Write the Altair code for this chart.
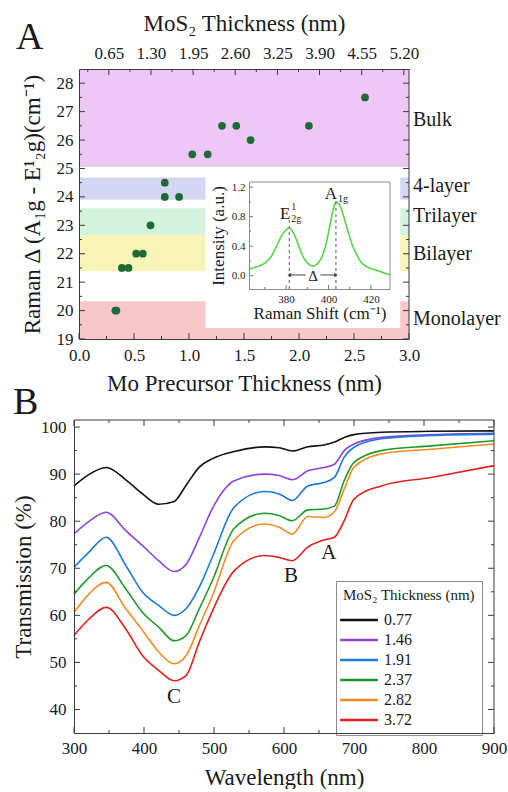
import altair as alt
import pandas as pd

FONT = "Liberation Serif, Times New Roman, serif"
INK = "#1a1a1a"
FRAME = "#3a3a3a"

# ---------------- Panel A : Raman difference vs precursor thickness ----------------
prec_thk = [0.33, 0.34, 0.39, 0.45, 0.52, 0.58, 0.65, 0.78, 0.78, 0.91, 1.03, 1.17, 1.30, 1.43, 1.56, 2.09, 2.60]
raman_delta = [20.0, 20.0, 21.5, 21.5, 22.0, 22.0, 23.0, 24.5, 24.0, 24.0, 25.5, 25.5, 26.5, 26.5, 26.0, 26.5, 27.5]

band_names = ["Monolayer", "Bilayer", "Trilayer", "4-layer", "Bulk"]
band_lo = [19.0, 21.38, 22.66, 23.9, 25.05]
band_hi = [20.33, 22.66, 23.6, 24.68, 28.5]
band_label_y = [19.7, 22.0, 23.33, 24.4, 26.7]
band_colors = ["#f8c7c9", "#f8f3b6", "#d4f3df", "#d4d6f4", "#efc7f7"]

xa_dom = [0.0, 3.0]
ya_dom = [19.0, 28.5]
xa_major = [0.0, 0.5, 1.0, 1.5, 2.0, 2.5, 3.0]
xa_minor = [0.25, 0.75, 1.25, 1.75, 2.25, 2.75]
ya_major = [19, 20, 21, 22, 23, 24, 25, 26, 27, 28]
ya_minor = [19.5, 20.5, 21.5, 22.5, 23.5, 24.5, 25.5, 26.5, 27.5]

mos2_dom = [0.19, 5.28]
mos2_major = [0.65, 1.30, 1.95, 2.60, 3.25, 3.90, 4.55, 5.20]
mos2_minor = [0.325, 0.975, 1.625, 2.275, 2.925, 3.575, 4.225, 4.875]

inset_box_x = [1.15, 2.92]
inset_box_y = [19.39, 24.9]

# inset Raman spectrum
raman_shift = [362.5, 366, 370, 373, 376, 378, 380, 381.5, 383, 385, 387, 389, 391, 393, 395,
               397, 399, 401, 402.5, 403.5, 405, 407, 409, 411, 413, 415, 418, 422, 426, 429]
raman_int = [0.09, 0.12, 0.17, 0.26, 0.43, 0.55, 0.62, 0.65, 0.60, 0.48, 0.32, 0.21, 0.15, 0.13, 0.17,
             0.26, 0.45, 0.73, 0.93, 1.0, 0.97, 0.82, 0.62, 0.43, 0.30, 0.20, 0.12, 0.08, 0.04, 0.01]
inset_x_dom = [362.5, 429.0]
inset_y_dom = [-0.18, 1.27]
inset_x_major = [380, 400, 420]
inset_x_minor = [370, 390, 410]
inset_y_major = [0.0, 0.4, 0.8, 1.2]
inset_y_minor = [0.2, 0.6, 1.0]
peak_pos = [381.5, 403.5]
peak_line_top = [0.76, 1.03]
delta_gap = [389.2, 396.2]
delta_level = 0.01

# ---------------- Panel B : transmission spectra ----------------
wl = [300, 320, 346, 374, 398, 421, 443, 460, 479, 498, 529, 572, 593, 612, 634, 657, 672, 686, 700, 739, 810, 900]
thk_labels = ["0.77", "1.46", "1.91", "2.37", "2.82", "3.72"]
line_colors = ["#111111", "#8e44d8", "#1b7ad9", "#1d9a2a", "#f38b22", "#e2201f"]
T_077 = [87.5, 89.8, 91.4, 88.8, 85.8, 83.6, 84.2, 87.6, 91.5, 93.3, 94.8, 95.8, 95.6, 94.9, 95.8, 96.2, 96.8, 97.8, 98.4, 98.9, 99.1, 99.2]
T_146 = [77.3, 79.8, 81.9, 78.0, 74.8, 71.6, 69.3, 70.8, 76.5, 82.8, 88.6, 90.0, 89.7, 88.8, 90.7, 91.4, 92.1, 95.0, 96.4, 97.8, 98.4, 98.7]
T_191 = [70.2, 73.2, 76.6, 70.6, 64.9, 62.1, 60.0, 61.4, 66.0, 72.5, 83.0, 86.3, 85.8, 84.4, 87.5, 88.2, 89.3, 93.6, 95.7, 97.5, 98.2, 98.5]
T_237 = [64.5, 67.8, 70.6, 65.6, 60.6, 57.5, 54.6, 55.7, 61.4, 67.5, 78.5, 81.7, 81.2, 80.1, 82.4, 82.6, 83.2, 88.6, 92.5, 95.0, 96.0, 97.1]
T_282 = [60.6, 64.3, 67.0, 61.4, 56.8, 52.2, 49.7, 51.4, 57.8, 64.2, 76.0, 79.4, 78.7, 77.3, 81.0, 80.8, 82.0, 86.8, 91.5, 94.3, 95.3, 96.4]
T_372 = [55.7, 59.0, 61.7, 57.1, 51.4, 48.3, 46.1, 47.2, 54.3, 61.0, 69.5, 72.7, 72.3, 71.6, 74.5, 76.0, 76.6, 80.1, 84.7, 87.5, 89.3, 91.8]
series = [T_077, T_146, T_191, T_237, T_282, T_372]

peak_labels = ["B", "A", "C"]
peak_wl = [610, 664, 443]
peak_T = [68.4, 73.2, 42.7]

xb_dom = [300, 900]
yb_dom = [35.0, 101.5]
xb_major = [300, 400, 500, 600, 700, 800, 900]
xb_minor = [350, 450, 550, 650, 750, 850]
yb_major = [40, 50, 60, 70, 80, 90, 100]
yb_minor = [45, 55, 65, 75, 85, 95]

# ---------------- layout constants ----------------
WA, HA = 335, 270
XA_RANGE = [5, WA]
INSET_X_RANGE = [175, 316]
INSET_Y_RANGE = [220, 113]
WB, HB = 420, 313


def axis(**kw):
    d = dict(labelFont=FONT, titleFont=FONT, labelColor=INK, titleColor=INK,
             titleFontWeight="normal", ticks=False, labelFlush=False, labelOverlap=False,
             grid=False, labelFontSize=17, titleFontSize=23, domainColor=FRAME)
    d.update(kw)
    return alt.Axis(**d)


XA = alt.Scale(domain=xa_dom, range=XA_RANGE, nice=False, zero=False)
YA = alt.Scale(domain=ya_dom, nice=False, zero=False)
XT = alt.Scale(domain=mos2_dom, range=XA_RANGE, nice=False, zero=False)
XI = alt.Scale(domain=inset_x_dom, range=INSET_X_RANGE, nice=False, zero=False)
YI = alt.Scale(domain=inset_y_dom, range=INSET_Y_RANGE, nice=False, zero=False)
XB = alt.Scale(domain=xb_dom, nice=False, zero=False)
YB = alt.Scale(domain=yb_dom, nice=False, zero=False)

AX_XA = axis(values=xa_major, format=".1f", title="Mo Precursor Thickness (nm)",
             labelPadding=8, titlePadding=9, zindex=1)
AX_YA = axis(values=ya_major, format="d", title="Raman Δ (A₁g - E¹₂g)(cm⁻¹)", offset=-5,
             labelPadding=6, titlePadding=12, zindex=1)
AX_XT = axis(orient="top", values=mos2_major, format=".2f", title="MoS₂ Thickness (nm)",
             labelPadding=7, titlePadding=9, zindex=1)
AX_XI = axis(orient="bottom", offset=-(HA - INSET_Y_RANGE[0]), values=inset_x_major, format="d",
             title="Raman Shift (cm⁻¹)", labelFontSize=11, titleFontSize=17,
             labelPadding=4, titlePadding=1, zindex=2, domainColor="#8a8a8a")
AX_YI = axis(orient="left", offset=-INSET_X_RANGE[0], values=inset_y_major, format=".1f",
             title="Intensity (a.u.)", labelFontSize=11, titleFontSize=17,
             labelPadding=4, titlePadding=4, zindex=2, domainColor="#8a8a8a")
AX_XB = axis(values=xb_major, format="d", title="Wavelength (nm)",
             labelPadding=7, titlePadding=10, zindex=1)
AX_YB = axis(values=yb_major, format="d", title="Transmission (%)",
             labelPadding=8, titlePadding=5, zindex=1)

AXES = {id(XA): AX_XA, id(YA): AX_YA, id(XT): AX_XT, id(XI): AX_XI, id(YI): AX_YI,
        id(XB): AX_XB, id(YB): AX_YB}


def X(field, scale):
    return alt.X(field, scale=scale, axis=AXES[id(scale)])


def Y(field, scale):
    return alt.Y(field, scale=scale, axis=AXES[id(scale)])


def vticks(vals, scale, y0, y1, color=FRAME):
    return alt.Chart(pd.DataFrame({"v": vals})).mark_rule(color=color, strokeWidth=1).encode(
        x=X("v:Q", scale), y=alt.value(y0), y2=alt.value(y1))


def hticks(vals, scale, x0, x1, color=FRAME):
    return alt.Chart(pd.DataFrame({"v": vals})).mark_rule(color=color, strokeWidth=1).encode(
        y=Y("v:Q", scale), x=alt.value(x0), x2=alt.value(x1))


# ---------- panel A main layers ----------
bands_df = pd.DataFrame({"name": band_names, "lo": band_lo, "hi": band_hi, "ly": band_label_y,
                         "x0": xa_dom[0], "x1": xa_dom[1]})
bands = alt.Chart(bands_df).mark_rect().encode(
    x=X("x0:Q", XA), x2="x1:Q", y=Y("lo:Q", YA), y2="hi:Q",
    color=alt.Color("name:N", scale=alt.Scale(domain=band_names, range=band_colors), legend=None))

box = alt.Chart(pd.DataFrame({"x0": [inset_box_x[0]], "x1": [inset_box_x[1]],
                              "y0": [inset_box_y[0]], "y1": [inset_box_y[1]]})).mark_rect(color="white").encode(
    x=X("x0:Q", XA), x2="x1:Q", y=Y("y0:Q", YA), y2="y1:Q")

pts = alt.Chart(pd.DataFrame({"p": prec_thk, "d": raman_delta})).mark_circle(
    size=60, color="#1f6b37", opacity=1).encode(x=X("p:Q", XA), y=Y("d:Q", YA))

band_text = alt.Chart(bands_df).mark_text(align="left", fontSize=20).encode(
    x=alt.value(WA + 4), y=Y("ly:Q", YA), text="name:N")

letterA = alt.Chart(pd.DataFrame({"t": ["A"]})).mark_text(
    align="left", baseline="alphabetic", fontSize=38).encode(
    x=alt.value(-58), y=alt.value(-20), text="t:N")

rightA = alt.Chart(pd.DataFrame({"x": [xa_dom[1]], "y0": [ya_dom[0]], "y1": [ya_dom[1]]})).mark_rule(
    color=FRAME).encode(x=X("x:Q", XA), y=Y("y0:Q", YA), y2="y1:Q")

mainA = alt.layer(
    bands, box, pts, band_text, letterA, rightA,
    vticks(xa_major, XA, HA, HA - 6), vticks(xa_minor, XA, HA, HA - 3),
    hticks(ya_major, YA, XA_RANGE[0], XA_RANGE[0] + 6), hticks(ya_minor, YA, XA_RANGE[0], XA_RANGE[0] + 3),
    hticks(ya_major, YA, WA, WA - 6), hticks(ya_minor, YA, WA, WA - 3),
)

top_pts = alt.Chart(pd.DataFrame({"m": mos2_major})).mark_point(opacity=0).encode(x=X("m:Q", XT))
topA = alt.layer(top_pts, vticks(mos2_major, XT, 0, 6), vticks(mos2_minor, XT, 0, 3))

# ---------- inset ----------
curve = alt.Chart(pd.DataFrame({"s": raman_shift, "i": raman_int})).mark_line(
    color="#55d64a", strokeWidth=1.6, interpolate="monotone").encode(x=X("s:Q", XI), y=Y("i:Q", YI))

dash_df = pd.DataFrame({"p": peak_pos, "y0": [inset_y_dom[0]] * 2, "y1": peak_line_top})
dashes = alt.Chart(dash_df).mark_rule(color="#777777", strokeDash=[3, 3], strokeWidth=1.2).encode(
    x=X("p:Q", XI), y=Y("y0:Q", YI), y2="y1:Q")

seg_df = pd.DataFrame({"a": [peak_pos[0], delta_gap[1]], "b": [delta_gap[0], peak_pos[1]],
                       "y": [delta_level, delta_level]})
segs = alt.Chart(seg_df).mark_rule(color="#444444", strokeWidth=1).encode(
    x=X("a:Q", XI), x2="b:Q", y=Y("y:Q", YI))
heads = alt.Chart(pd.DataFrame({"p": peak_pos, "y": [delta_level] * 2,
                                "sh": ["triangle-left", "triangle-right"]})).mark_point(
    filled=True, color="#444444", size=18, opacity=1).encode(
    x=X("p:Q", XI), y=Y("y:Q", YI), shape=alt.Shape("sh:N", scale=None, legend=None))
delta_txt = alt.Chart(pd.DataFrame({"x": [(delta_gap[0] + delta_gap[1]) / 2], "y": [delta_level],
                                    "t": ["Δ"]})).mark_text(fontSize=15, dy=1).encode(
    x=X("x:Q", XI), y=Y("y:Q", YI), text="t:N")

lab_main = alt.Chart(pd.DataFrame({"x": peak_pos, "y": [0.83, 1.11], "t": ["E", "A"]})).mark_text(
    fontSize=17, align="right", dx=1).encode(x=X("x:Q", XI), y=Y("y:Q", YI), text="t:N")
lab_sup = alt.Chart(pd.DataFrame({"x": [peak_pos[0]], "y": [0.83], "t": ["1"]})).mark_text(
    fontSize=10, align="left", dx=2, dy=-7).encode(x=X("x:Q", XI), y=Y("y:Q", YI), text="t:N")
lab_sub = alt.Chart(pd.DataFrame({"x": peak_pos, "y": [0.83, 1.11], "t": ["2g", "1g"]})).mark_text(
    fontSize=10, align="left", dx=2, dy=5).encode(x=X("x:Q", XI), y=Y("y:Q", YI), text="t:N")

frame_top = alt.Chart(pd.DataFrame({"a": [inset_x_dom[0]], "b": [inset_x_dom[1]], "y": [inset_y_dom[1]]})).mark_rule(
    color="#8a8a8a").encode(x=X("a:Q", XI), x2="b:Q", y=Y("y:Q", YI))
frame_right = alt.Chart(pd.DataFrame({"x": [inset_x_dom[1]], "a": [inset_y_dom[0]], "b": [inset_y_dom[1]]})).mark_rule(
    color="#8a8a8a").encode(x=X("x:Q", XI), y=Y("a:Q", YI), y2="b:Q")

insetA = alt.layer(
    curve, dashes, segs, heads, delta_txt, lab_main, lab_sup, lab_sub, frame_top, frame_right,
    vticks(inset_x_major, XI, INSET_Y_RANGE[0], INSET_Y_RANGE[0] - 4, "#777777"),
    vticks(inset_x_minor, XI, INSET_Y_RANGE[0], INSET_Y_RANGE[0] - 2, "#777777"),
    hticks(inset_y_major, YI, INSET_X_RANGE[0], INSET_X_RANGE[0] + 4, "#777777"),
    hticks(inset_y_minor, YI, INSET_X_RANGE[0], INSET_X_RANGE[0] + 2, "#777777"),
)

panelA = alt.layer(mainA, topA, insetA).resolve_scale(x="independent", y="independent").properties(
    width=WA, height=HA)

# ---------------- Panel B ----------------
rows = []
for lab, vals in zip(thk_labels, series):
    for w, t in zip(wl, vals):
        rows.append({"wl": w, "T": t, "thk": lab})
lines_df = pd.DataFrame(rows)

lines = alt.Chart(lines_df).mark_line(strokeWidth=1.6, interpolate="monotone").encode(
    x=X("wl:Q", XB), y=Y("T:Q", YB),
    color=alt.Color("thk:N", scale=alt.Scale(domain=thk_labels, range=line_colors), legend=alt.Legend(
        title="MoS₂ Thickness (nm)", orient="none", legendX=262, legendY=161,
        symbolType="M-1.8,0L1.8,0", symbolSize=441, symbolStrokeWidth=2.5, symbolOffset=4,
        titleFont=FONT, titleFontSize=15, titleFontWeight="normal", titleColor=INK,
        labelFont=FONT, labelFontSize=16, labelColor=INK, labelOffset=13,
        fillColor="white", strokeColor="#8a8a8a", padding=7, rowPadding=0, titlePadding=5)))

ann = alt.Chart(pd.DataFrame({"t": peak_labels, "w": peak_wl, "T": peak_T})).mark_text(fontSize=21).encode(
    x=X("w:Q", XB), y=Y("T:Q", YB), text="t:N")

letterB = alt.Chart(pd.DataFrame({"t": ["B"]})).mark_text(
    align="left", baseline="alphabetic", fontSize=38).encode(
    x=alt.value(-61), y=alt.value(-6), text="t:N")

topB = alt.Chart(pd.DataFrame({"a": [xb_dom[0]], "b": [xb_dom[1]], "y": [yb_dom[1]]})).mark_rule(color=FRAME).encode(
    x=X("a:Q", XB), x2="b:Q", y=Y("y:Q", YB))
rightB = alt.Chart(pd.DataFrame({"x": [xb_dom[1]], "a": [yb_dom[0]], "b": [yb_dom[1]]})).mark_rule(color=FRAME).encode(
    x=X("x:Q", XB), y=Y("a:Q", YB), y2="b:Q")

panelB = alt.layer(
    lines, ann, letterB, topB, rightB,
    vticks(xb_major, XB, HB, HB - 6), vticks(xb_minor, XB, HB, HB - 3),
    vticks(xb_major, XB, 0, 6), vticks(xb_minor, XB, 0, 3),
    hticks(yb_major, YB, 0, 6), hticks(yb_minor, YB, 0, 3),
    hticks(yb_major, YB, WB, WB - 6), hticks(yb_minor, YB, WB, WB - 3),
).properties(width=WB, height=HB)

chart = alt.vconcat(panelA, panelB, spacing=81, bounds="flush").resolve_scale(
    color="independent").properties(
    padding={"left": 12, "top": 12, "right": 0, "bottom": 0}, background="white"
).configure_view(strokeWidth=0).configure_axis(
    labelFont=FONT, titleFont=FONT, labelColor=INK, titleColor=INK, titleFontWeight="normal",
    labelFontSize=17, titleFontSize=23, grid=False, labelOverlap=False
).configure_text(font=FONT, color=INK)

chart.save("out.html", embed_options={"renderer": "svg", "actions": False})
